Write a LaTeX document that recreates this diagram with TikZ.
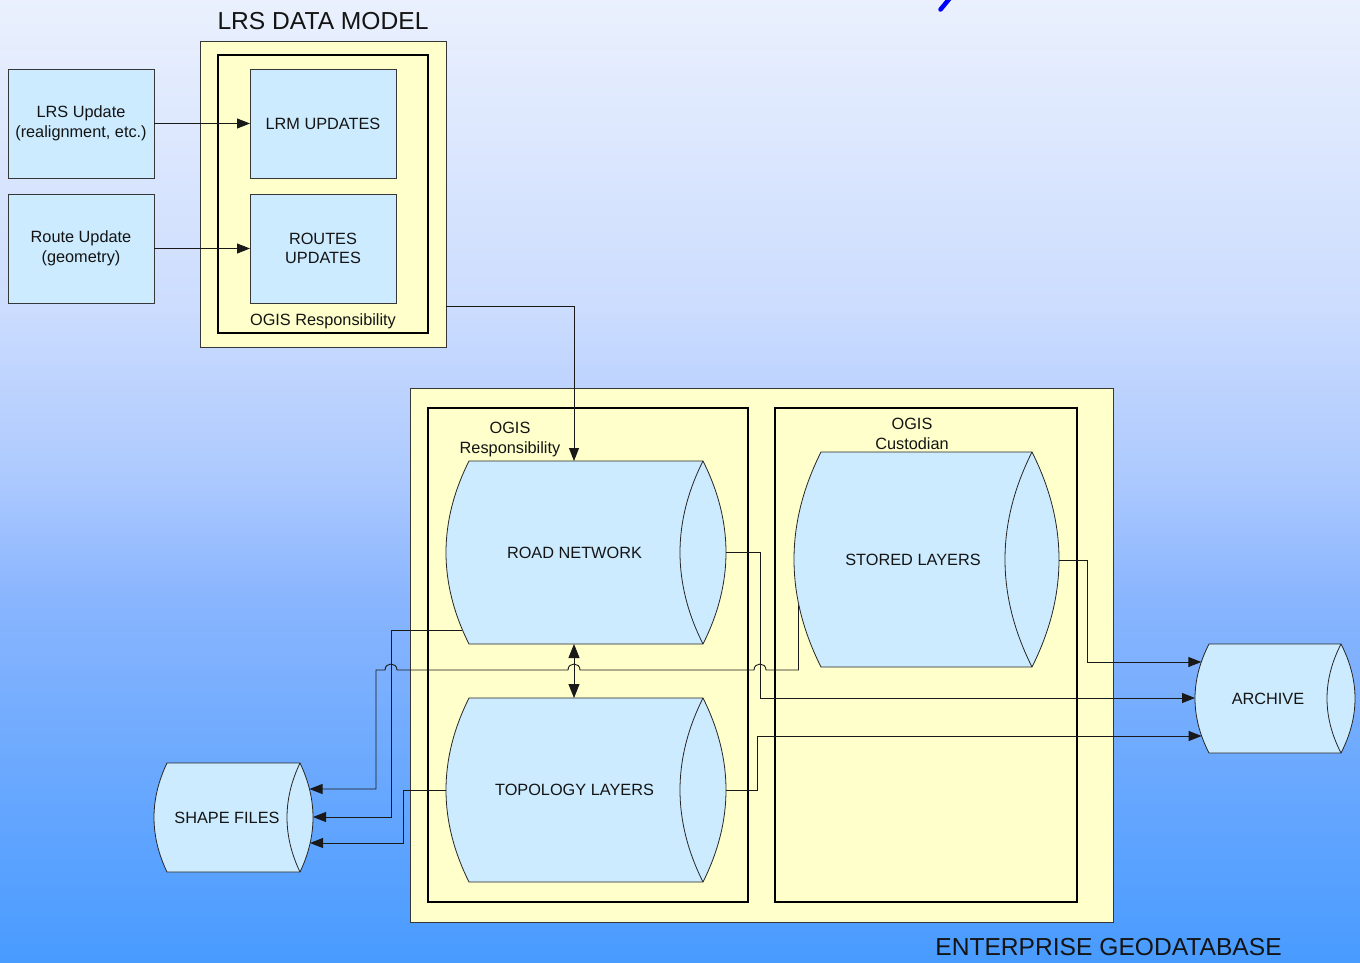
\documentclass[tikz,border=0pt]{standalone}
\usepackage{fontspec}
\setmainfont{Liberation Sans}
\usetikzlibrary{arrows.meta,calc}
\definecolor{bg0}{RGB}{72,155,255}
\definecolor{bg1}{RGB}{137,181,254}
\definecolor{bg2}{RGB}{172,201,254}
\definecolor{bg3}{RGB}{205,221,254}
\definecolor{bg4}{RGB}{224,234,254}
\definecolor{bg5}{RGB}{234,240,253}
\definecolor{boxblue}{RGB}{204,235,255}
\definecolor{boxyellow}{RGB}{255,255,204}
\definecolor{edge}{RGB}{55,55,55}
\definecolor{inkc}{RGB}{20,20,20}
\pgfdeclareverticalshading{bgshade}{100bp}{color(0bp)=(bg0); color(25bp)=(bg0); color(43.85bp)=(bg1); color(50.08bp)=(bg2); color(59.4bp)=(bg3); color(69.8bp)=(bg4); color(75bp)=(bg5); color(100bp)=(bg5)}
\tikzset{
  every node/.style={font=\fontsize{16.3}{19.5}\selectfont, align=center, inner sep=0pt, outer sep=0pt, text=inkc},
  bigtext/.style={font=\fontsize{24.6}{28}\selectfont},
  bluebox/.style={draw=edge, fill=boxblue, line width=0.8pt, rectangle, minimum width=146pt, minimum height=109pt},
  yellowbox/.style={draw=edge, fill=boxyellow, line width=0.8pt, rectangle},
  thickbox/.style={draw=black, line width=2.6pt, rectangle},
  cylbody/.style={draw=black!85, fill=boxblue, line width=0.8pt, line join=miter},
  cyltext/.style={},
  conn/.style={draw=black!90, line width=0.9pt},
  arr/.style={conn, -{Triangle[length=13pt,width=10pt]}},
  darr/.style={conn, {Triangle[length=14pt,width=11pt]}-{Triangle[length=14pt,width=11pt]}},
}
\newcommand{\cylinderat}[7]{%
  \pgfmathsetmacro\cylB{4*#6/3}%
  \pgfmathsetmacro\cylH{(#5-#3)/3}%
  \pgfmathsetmacro\cylM{(#3+#5)/2}%
  \pgfmathsetmacro\cylT{(#2+#4-#6)/2}%
  \filldraw[cylbody] (#2,#3) -- (#4,#3) .. controls (#4+\cylB,#3+\cylH) and (#4+\cylB,#5-\cylH) .. (#4,#5) -- (#2,#5) .. controls (#2-\cylB,#5-\cylH) and (#2-\cylB,#3+\cylH) .. cycle;
  \draw[cylbody, fill=none] (#4,#3) .. controls (#4-\cylB,#3+\cylH) and (#4-\cylB,#5-\cylH) .. (#4,#5);
  \node[cyltext] (#1) at (\cylT,\cylM) {#7};
}
\begin{document}
\begin{tikzpicture}[x=1pt,y=-1pt]
\useasboundingbox (0,0) rectangle (1360,963);
\shade[shading=bgshade] (0,0) rectangle (1360,963);
% fragment of a cropped title stroke
\draw[line width=4.5pt, color={rgb,255:red,0;green,0;blue,255}, line cap=round] (950,-2) -- (940.5,9.5);

% LRS data model
\node[bigtext] (lrstitle) at (323,21.5) {LRS DATA MODEL};
\node[yellowbox, minimum width=246pt, minimum height=306pt] (lrsyellow) at (323,194) {};
\node[thickbox, minimum width=210pt, minimum height=278pt] (lrsframe) at (323,194) {};
\node[bluebox] (lrsupd) at (81,123.5) {LRS Update\\(realignment, etc.)};
\node[bluebox] (routeupd) at (81,248.5) {Route Update\\(geometry)};
\node[bluebox] (lrm) at (323,123.5) {LRM UPDATES};
\node[bluebox] (routes) at (323,248.5) {ROUTES\\UPDATES};
\node (lrsresp) at (323,321.5) {OGIS Responsibility};

% Enterprise geodatabase
\node[yellowbox, minimum width=703pt, minimum height=534pt] (entyellow) at (761.5,655) {};
\node[thickbox, minimum width=320pt, minimum height=494pt] (entleft) at (588,655) {};
\node[thickbox, minimum width=302pt, minimum height=494pt] (entright) at (926,655) {};
\node (entresp) at (510,439.5) {OGIS\\Responsibility};
\node (entcust) at (912,434) {OGIS\\Custodian};
\node[bigtext] (enttitle) at (1108.5,947) {ENTERPRISE GEODATABASE};

\cylinderat{road}{469}{461}{703}{644}{23}{ROAD NETWORK}
\cylinderat{topo}{469}{698}{703}{882}{23}{TOPOLOGY LAYERS}
\cylinderat{stored}{821}{452}{1032}{667}{27}{STORED LAYERS}
\cylinderat{shape}{167}{763}{300}{872}{13}{SHAPE FILES}
\cylinderat{archive}{1209}{644}{1341}{753}{14}{ARCHIVE}

% connection points on the shapes
\coordinate (lrsout) at (446,306);
\coordinate (roadT) at (574,461);
\coordinate (roadB) at (574,644);
\coordinate (topoT) at (574,698);
\coordinate (roadA) at (462,630);
\coordinate (roadR) at (726,552);
\coordinate (topoL) at (446,790);
\coordinate (topoR) at (726,790);
\coordinate (storedL) at (798.5,605);
\coordinate (storedR) at (1059,560);
\coordinate (shapeA) at (313,817);
\coordinate (shapeB) at (309.5,789);
\coordinate (shapeC) at (310,843);
\coordinate (archA) at (1201.3,662);
\coordinate (archB) at (1195,698);
\coordinate (archC) at (1201.6,736);

% connectors
\draw[arr] (lrsupd.east) -- (lrm.west);
\draw[arr] (routeupd.east) -- (routes.west);
\draw[arr] (lrsout) -| (roadT);
\draw[darr] (roadB) -- (topoT);
\draw[arr] (roadA) -- ++(-71,0) |- (shapeA);
\draw[arr] (storedL) |- (766,670) .. controls (766,662) and (754,662) .. (754,670) -- (580,670) .. controls (580,662) and (568,662) .. (568,670) -- (397,670) .. controls (397,662) and (385,662) .. (385,670) -- (376,670) |- (shapeB);
\draw[arr] (roadR) -- ++(34,0) |- (archB);
\draw[arr] (topoR) -- ++(31,0) |- (archC);
\draw[arr] (storedR) -- ++(28,0) |- (archA);
\draw[arr] (topoL) -- ++(-43,0) |- (shapeC);
\end{tikzpicture}
\end{document}
